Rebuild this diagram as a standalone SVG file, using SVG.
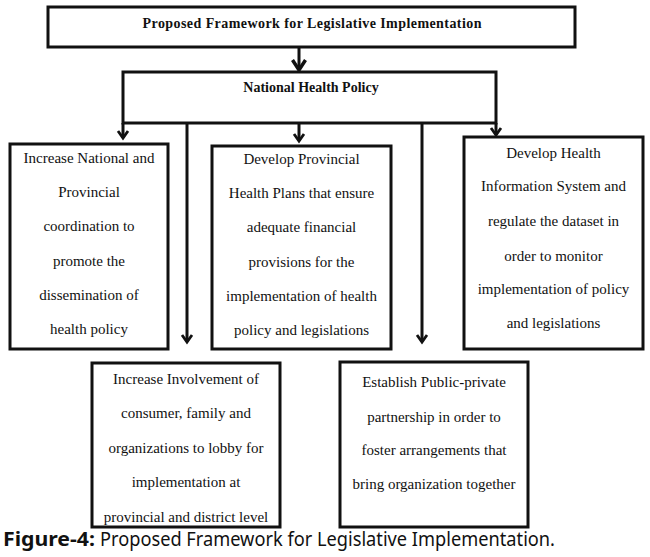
<svg xmlns="http://www.w3.org/2000/svg" width="650" height="557" viewBox="0 0 650 557">
<style>
.box{fill:#fff;stroke:#111;stroke-width:3}
.t{font-family:"Liberation Serif","Times New Roman",serif;font-size:15px;fill:#111;text-anchor:middle}
.b{font-family:"Liberation Serif","Times New Roman",serif;font-size:14px;font-weight:bold;fill:#111;text-anchor:middle}
.c{stroke:#111;stroke-width:3;fill:none}
.cap{font-family:"Noto Sans","Liberation Sans",sans-serif;font-size:20px;fill:#111}
</style>
<defs>
<marker id="ah" markerUnits="userSpaceOnUse" orient="auto" refX="0" refY="0" viewBox="-10 -7 12 14" markerWidth="12" markerHeight="14" overflow="visible">
<path d="M-7,-5 L0,0 L-7,5" fill="none" stroke="#111" stroke-width="2.8"/>
</marker>
<marker id="ahb" markerUnits="userSpaceOnUse" orient="auto" refX="0" refY="0" viewBox="-12 -8 14 16" markerWidth="14" markerHeight="16" overflow="visible">
<path d="M-10,-6.5 L0,0 L-10,6.5" fill="none" stroke="#111" stroke-width="3.5"/>
</marker>
</defs>
<rect width="650" height="557" fill="#fff"/>
<g id="connectors">
<line class="c" x1="299" y1="47" x2="299" y2="70" marker-end="url(#ahb)"/>
<line class="c" x1="123" y1="123" x2="123" y2="138" marker-end="url(#ah)"/>
<line class="c" x1="187" y1="123" x2="187" y2="342" marker-end="url(#ah)"/>
<line class="c" x1="299" y1="123" x2="299" y2="141" marker-end="url(#ah)"/>
<line class="c" x1="422" y1="123" x2="422" y2="342" marker-end="url(#ah)"/>
<line class="c" x1="496" y1="123" x2="496" y2="135" marker-end="url(#ah)"/>
</g>
<g id="node-title">
<rect class="box" x="48" y="7" width="527" height="40"/>
<text class="b" x="312" y="28" textLength="339">Proposed Framework for Legislative Implementation</text>
</g>
<g id="node-nhp">
<rect class="box" x="123" y="72" width="373" height="51"/>
<text class="b" x="311" y="92">National Health Policy</text>
</g>
<g id="node-coordination">
<rect class="box" x="10" y="144" width="158" height="205"/>
<text class="t" x="89" y="163">Increase National and</text>
<text class="t" x="89" y="197">Provincial</text>
<text class="t" x="89" y="231">coordination to</text>
<text class="t" x="89" y="266">promote the</text>
<text class="t" x="89" y="300">dissemination of</text>
<text class="t" x="89" y="334">health policy</text>
</g>
<g id="node-plans">
<rect class="box" x="212" y="146" width="179" height="203"/>
<text class="t" x="301.5" y="164">Develop Provincial</text>
<text class="t" x="301.5" y="198">Health Plans that ensure</text>
<text class="t" x="301.5" y="232">adequate financial</text>
<text class="t" x="301.5" y="267">provisions for the</text>
<text class="t" x="301.5" y="301">implementation of health</text>
<text class="t" x="301.5" y="335">policy and legislations</text>
</g>
<g id="node-his">
<rect class="box" x="464" y="137" width="179" height="212"/>
<text class="t" x="553.5" y="158">Develop Health</text>
<text class="t" x="553.5" y="191">Information System and</text>
<text class="t" x="553.5" y="226">regulate the dataset in</text>
<text class="t" x="553.5" y="261">order to monitor</text>
<text class="t" x="553.5" y="294">implementation of policy</text>
<text class="t" x="553.5" y="328">and legislations</text>
</g>
<g id="node-involvement">
<rect class="box" x="92" y="363" width="188" height="164"/>
<text class="t" x="186" y="384">Increase Involvement of</text>
<text class="t" x="186" y="418">consumer, family and</text>
<text class="t" x="186" y="453">organizations to lobby for</text>
<text class="t" x="186" y="487">implementation at</text>
<text class="t" x="186" y="522">provincial and district level</text>
</g>
<g id="node-ppp">
<rect class="box" x="340" y="362" width="188" height="165"/>
<text class="t" x="434" y="387">Establish Public-private</text>
<text class="t" x="434" y="422">partnership in order to</text>
<text class="t" x="434" y="455">foster arrangements that</text>
<text class="t" x="434" y="489">bring organization together</text>
</g>
<g id="caption">
<text class="cap" x="3" y="546" font-weight="bold" textLength="92" lengthAdjust="spacingAndGlyphs">Figure-4:</text>
<text class="cap" x="100" y="546" textLength="455" lengthAdjust="spacingAndGlyphs">Proposed Framework for Legislative Implementation.</text>
</g>
</svg>
